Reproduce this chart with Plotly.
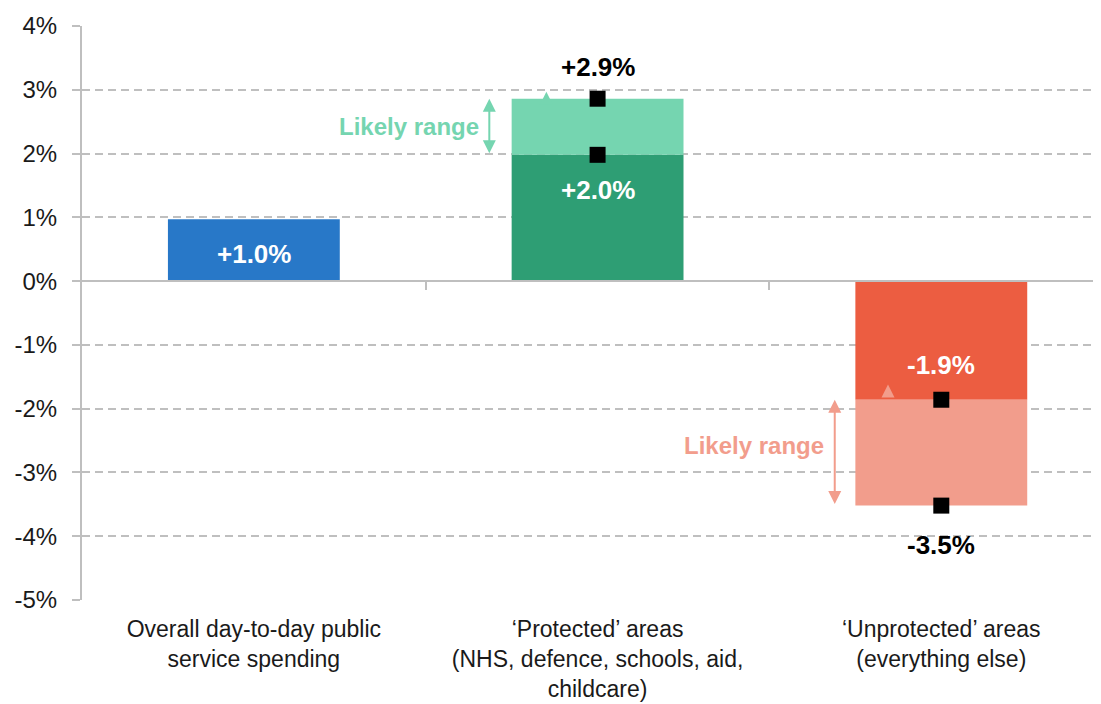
import plotly.graph_objects as go

categories = ["Overall day-to-day public<br>service spending",
              "‘Protected’ areas<br>(NHS, defence, schools, aid,<br>childcare)",
              "‘Unprotected’ areas<br>(everything else)"]
central = [0.97, 1.98, -1.86]     # central estimate
range_end = [None, 2.86, -3.52]   # other end of likely range
bar_colors = ["#2878C8", "#2E9E74", "#EC5D41"]
range_colors = [None, "#75D5B0", "#F29D8C"]
ticks = [-5, -4, -3, -2, -1, 0, 1, 2, 3, 4]

def fmt(v):
    return ("+" if v > 0 else "") + f"{v:.1f}%"

FONT = "Liberation Sans, Arial, sans-serif"
x = [0, 1, 2]

fig = go.Figure()

# central bars
fig.add_trace(go.Bar(x=x, y=central, marker_color=bar_colors, width=0.5,
                     marker_line_width=0, hoverinfo="skip"))

# likely range bars stacked on the central ones
rx = [i for i in x if range_end[i] is not None]
fig.add_trace(go.Bar(x=rx, y=[range_end[i] - central[i] for i in rx],
                     base=[central[i] for i in rx],
                     marker_color=[range_colors[i] for i in rx], width=0.5,
                     marker_line_width=0, hoverinfo="skip"))

# square markers at both ends of range
fig.add_trace(go.Scatter(x=rx + rx, y=[central[i] for i in rx] + [range_end[i] for i in rx],
                         mode="markers", marker=dict(symbol="square", size=16, color="black"),
                         hoverinfo="skip"))

ann = []
# labels inside bars (white)
offsets_in = [0, -0.55, 0.55]
for i in x:
    yy = central[i] / 2 - 0.06 if i == 0 else central[i] + offsets_in[i]
    ann.append(dict(x=i, y=yy, text=f"<b>{fmt(central[i])}</b>", showarrow=False,
                    font=dict(color="white", size=26, family=FONT)))
# labels at range ends (black)
for i, off in zip(rx, [0.5, -0.62]):
    ann.append(dict(x=i, y=range_end[i] + off, text=f"<b>{fmt(range_end[i])}</b>",
                    showarrow=False, font=dict(color="black", size=26, family=FONT)))

# "Likely range" double arrows
for i, xa, lift in zip(rx, [0.685, 1.69], [0, 0.12]):
    lo, hi = sorted([central[i], range_end[i]])
    ann.append(dict(x=xa, y=hi, ax=xa, ay=lo, xref="x", yref="y", axref="x", ayref="y",
                    text="", showarrow=True, arrowhead=2, arrowside="end+start",
                    arrowsize=1.3, arrowwidth=2, arrowcolor=range_colors[i]))
    ann.append(dict(x=xa - 0.025, y=(lo + hi) / 2 + lift, text="<b>Likely range</b>",
                    showarrow=False, xanchor="right",
                    font=dict(color=range_colors[i], size=24, family=FONT)))

# small arrow tips next to the bars
for i, xa, tip in zip(rx, [0.851, 1.845], [2.97, -1.62]):
    ann.append(dict(x=xa, y=tip, ax=xa, ay=tip - 0.13, xref="x", yref="y", axref="x", ayref="y",
                    text="", showarrow=True, arrowhead=2, arrowsize=1.3, arrowwidth=2,
                    arrowcolor=range_colors[i]))

fig.update_layout(
    width=1093, height=696,
    margin=dict(l=74, r=4, t=18, b=104),
    plot_bgcolor="white", paper_bgcolor="white",
    barmode="overlay", showlegend=False,
    font=dict(family=FONT, size=24, color="#1a1a1a"),
    annotations=ann,
    xaxis=dict(range=[-0.5, 2.453], tickvals=x, ticktext=categories, showgrid=False,
               zeroline=False, showline=False, ticks="", tickfont=dict(size=23),
               ticklabelstandoff=13, automargin=False),
    xaxis2=dict(range=[-0.5, 2.453], overlaying="x", anchor="free", position=5 / 9,
                side="bottom", showline=True, linecolor="#BFBFBF", linewidth=2,
                tickmode="array", tickvals=[0.5, 1.5], ticks="outside", ticklen=8,
                tickcolor="#BFBFBF", tickwidth=2, showticklabels=False, showgrid=False,
                zeroline=False),
    yaxis=dict(range=[-5, 4], tickvals=ticks, ticktext=[f"{t}%" for t in ticks],
               showgrid=True, gridcolor="#BFBFBF", griddash="8px,5px", gridwidth=1.5,
               zeroline=False, showline=True, linecolor="#BFBFBF", linewidth=2,
               ticks="outside", ticklen=8, tickcolor="#BFBFBF", tickwidth=2,
               tickfont=dict(size=24), ticklabelstandoff=10, automargin=False),
)
fig.add_trace(go.Scatter(x=[0], y=[None], xaxis="x2", showlegend=False))

fig.write_html("out.html")
